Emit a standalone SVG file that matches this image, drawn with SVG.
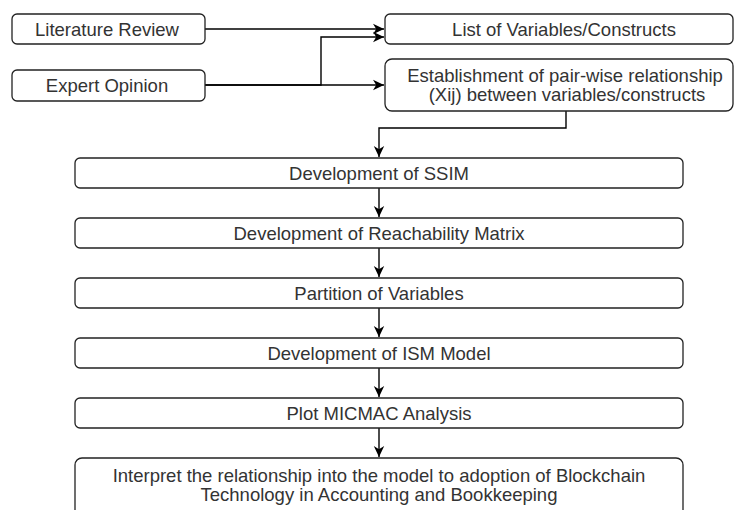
<svg xmlns="http://www.w3.org/2000/svg" width="736" height="510" viewBox="0 0 736 510">
  <style>
    .box { fill: #ffffff; stroke: #222222; stroke-width: 1.3; }
    .label { font-family: "Liberation Sans", Arial, sans-serif; font-size: 18.5px; fill: #333333; text-anchor: middle; }
    .edge { fill: none; stroke: #000000; stroke-width: 1.4; }
  </style>
  <defs>
    <marker id="arrow" markerUnits="userSpaceOnUse" markerWidth="13" markerHeight="12" refX="11" refY="6" orient="auto">
      <path d="M0,0.8 L11,6 L0,11.2 L3.2,6 Z" fill="#000000"/>
    </marker>
  </defs>
  <rect width="736" height="510" fill="#ffffff"/>

  <g id="connectors">
    <path class="edge" d="M205,29 H384" marker-end="url(#arrow)"/>
    <path class="edge" d="M205,85 H321 V37 H384" marker-end="url(#arrow)"/>
    <path class="edge" d="M205,85 H384" marker-end="url(#arrow)"/>
    <path class="edge" d="M566,111 V128 H379 V157" marker-end="url(#arrow)"/>
    <path class="edge" d="M379,188 V217" marker-end="url(#arrow)"/>
    <path class="edge" d="M379,248 V277" marker-end="url(#arrow)"/>
    <path class="edge" d="M379,308 V337" marker-end="url(#arrow)"/>
    <path class="edge" d="M379,368 V397" marker-end="url(#arrow)"/>
    <path class="edge" d="M379,428 V457" marker-end="url(#arrow)"/>
  </g>

  <g id="literature-review">
    <rect class="box" x="12" y="14" width="193" height="30" rx="5"/>
    <text class="label" x="107" y="35.5">Literature Review</text>
  </g>
  <g id="expert-opinion">
    <rect class="box" x="12" y="70" width="193" height="31" rx="5"/>
    <text class="label" x="107" y="92">Expert Opinion</text>
  </g>
  <g id="list-variables">
    <rect class="box" x="385" y="14" width="348" height="30" rx="5"/>
    <text class="label" x="564" y="35.5">List of Variables/Constructs</text>
  </g>
  <g id="pairwise-relationship">
    <rect class="box" x="385" y="59" width="348" height="52" rx="7"/>
    <text class="label" x="565" y="81.5">Establishment of pair-wise relationship</text>
    <text class="label" x="567" y="100.5">(Xij) between variables/constructs</text>
  </g>
  <g id="ssim">
    <rect class="box" x="75" y="158" width="608" height="30" rx="5"/>
    <text class="label" x="379" y="179.5">Development of SSIM</text>
  </g>
  <g id="reachability-matrix">
    <rect class="box" x="75" y="218" width="608" height="30" rx="5"/>
    <text class="label" x="379" y="239.5">Development of Reachability Matrix</text>
  </g>
  <g id="partition">
    <rect class="box" x="75" y="278" width="608" height="30" rx="5"/>
    <text class="label" x="379" y="299.5">Partition of Variables</text>
  </g>
  <g id="ism-model">
    <rect class="box" x="75" y="338" width="608" height="30" rx="5"/>
    <text class="label" x="379" y="359.5">Development of ISM Model</text>
  </g>
  <g id="micmac">
    <rect class="box" x="75" y="398" width="608" height="30" rx="5"/>
    <text class="label" x="379" y="419.5">Plot MICMAC Analysis</text>
  </g>
  <g id="interpretation">
    <rect class="box" x="75" y="458" width="608" height="62" rx="7"/>
    <text class="label" x="379" y="481.5">Interpret the relationship into the model to adoption of Blockchain</text>
    <text class="label" x="379" y="500.5">Technology in Accounting and Bookkeeping</text>
  </g>
</svg>
